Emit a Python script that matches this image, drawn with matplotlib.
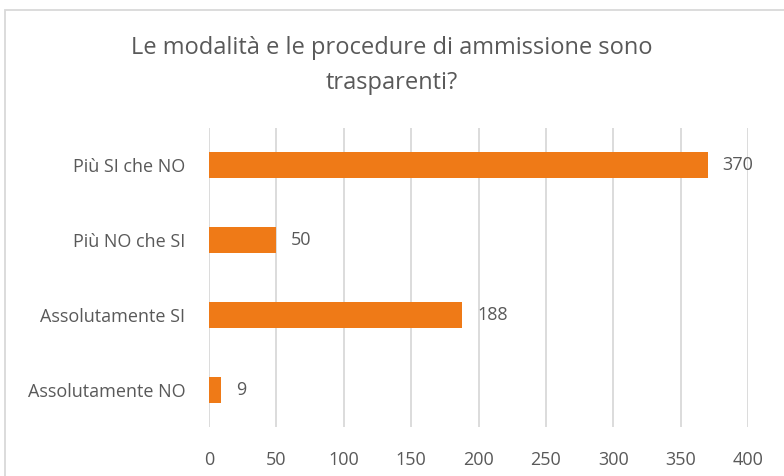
import matplotlib
matplotlib.use("Agg")
import matplotlib.pyplot as plt
from matplotlib.patches import Rectangle

categories = ["Assolutamente NO", "Assolutamente SI", "Più NO che SI", "Più SI che NO"]
values = [9, 188, 50, 370]
xticks = [0, 50, 100, 150, 200, 250, 300, 350, 400]

plt.rcParams["font.family"] = ["Open Sans", "DejaVu Sans"]
text_color = "#595959"
bar_color = "#EF7A17"

fig = plt.figure(figsize=(7.84, 4.76), dpi=100)
ax = fig.add_axes([209 / 784, 1 - 427 / 476, (748 - 209) / 784, (427 - 128) / 476])

ax.barh(range(len(categories)), values, height=0.35, color=bar_color, zorder=3)
for i, v in enumerate(values):
    ax.text(v + 11, i, str(v), va="center", ha="left", fontsize=13, color=text_color)

ax.set_xlim(0, 400)
ax.set_ylim(-0.5, len(categories) - 0.5)
ax.set_xticks(xticks)
ax.set_yticks(range(len(categories)))
ax.set_yticklabels(categories)
ax.tick_params(axis="both", length=0, labelsize=13, labelcolor=text_color)
ax.tick_params(axis="x", pad=17)
ax.tick_params(axis="y", pad=17)
ax.grid(axis="x", color="#D9D9D9", linewidth=1.3, zorder=0)
for s in ax.spines.values():
    s.set_visible(False)

fig.text(0.5, 1 - 48 / 476, "Le modalità e le procedure di ammissione sono",
         ha="center", va="center", fontsize=17, color=text_color)
fig.text(0.5, 1 - 83 / 476, "trasparenti?",
         ha="center", va="center", fontsize=17, color=text_color)

fig.patches.append(Rectangle((5 / 784, -0.1), 1.0, 1 - 10 / 476 + 0.1,
                             transform=fig.transFigure, fill=False,
                             edgecolor="#D9D9D9", linewidth=1.3))

fig.savefig("out.png", dpi=100)
